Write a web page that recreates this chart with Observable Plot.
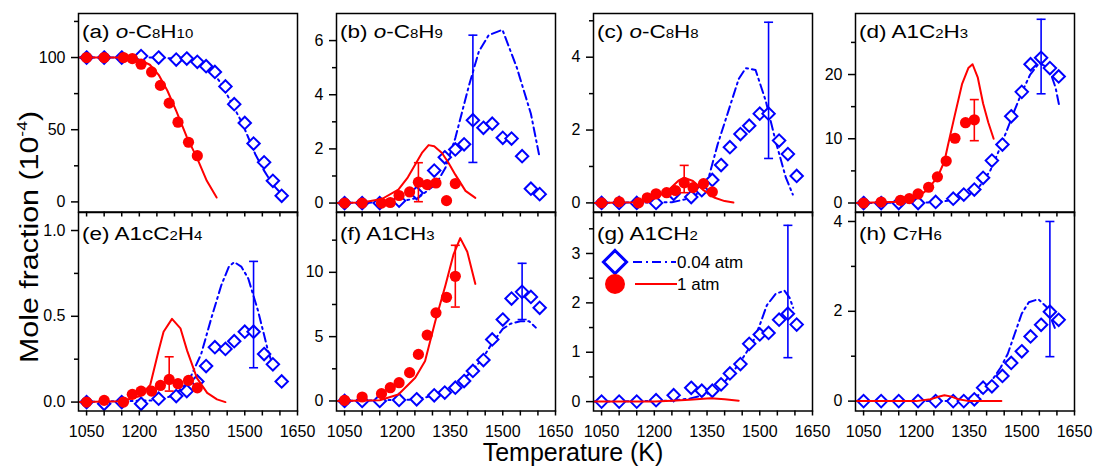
<!DOCTYPE html>
<html><head><meta charset="utf-8">
<script src="https://cdn.jsdelivr.net/npm/d3@7"></script>
<script src="https://cdn.jsdelivr.net/npm/@observablehq/plot@0.6"></script>
<style>
body{margin:0;background:#fff;font-family:"Liberation Sans",Arial,sans-serif;}
#wrap{position:relative;width:1095px;height:468px;overflow:hidden;background:#fff;}
#wrap svg{position:absolute;overflow:visible;}
</style></head><body><div id="wrap"></div>
<script>
// ---------- data ----------
const T_EXP_004 = [1050,1100,1150,1205,1255,1305,1335,1365,1390,1415,1445,1470,1500,1525,1555,1580,1605];
const T_EXP_1   = [1050,1100,1155,1180,1205,1235,1260,1285,1310,1340,1365];
const X_TICKS = [1050,1200,1350,1500,1650];
const X_MINOR = [1100,1150,1250,1300,1400,1450,1550,1600];
const LEGEND_LABELS = ["0.04 atm","1 atm"];
const X_TITLE = "Temperature (K)";
const Y_TITLE = ["Mole fraction (10","-4",")"];

// (a) o-C8H10
const a_blue = [100,100,100,101,100,98.6,99.3,97,94,90,80,67.7,54.7,40.4,27.4,14.6,4.2];
const a_red  = [100,100,100,99.3,95.4,90,80.7,68.4,55.2,41.3,32];
const a_blueModel = [[1030,100],[1250,100],[1330,99],[1380,96],[1410,90],[1435,81],[1459,70],[1492,55],[1530,33],[1554,22],[1580,12],[1610,4]];
const a_redModel  = [[1030,100],[1150,100],[1200,98.5],[1230,95],[1255,88],[1280,77],[1305,63],[1335,45],[1365,30],[1392,14.6],[1420,3]];
const a_errBlue = [], a_errRed = [];
// (b) o-C8H9
const b_blue = [0,0,0,0.09,0.37,1.2,1.69,1.98,2.17,3.06,2.78,2.93,2.41,2.38,1.73,0.53,0.33];
const b_red  = [0,0,0,0.02,0.28,0.41,0.77,0.68,0.74,0.09,0.72];
const b_blueModel = [[1030,0],[1200,0.03],[1260,0.2],[1310,0.7],[1337,1.3],[1365,2.4],[1403,4.3],[1432,5.6],[1460,6.2],[1499,6.4],[1540,5.0],[1580,3.3],[1603,1.8]];
const b_redModel  = [[1030,0],[1100,0.02],[1156,0.15],[1203,0.5],[1230,0.95],[1251,1.42],[1270,1.85],[1289,2.14],[1305,2.1],[1327,1.85],[1345,1.5],[1365,1.05],[1394,0.45],[1422,0.19]];
const b_errBlue = [[1415,1.5,6.2]], b_errRed = [[1260,0.05,1.49]];
// (c) o-C8H8
const c_blue = [0,0,0,0,0.25,0.16,0.35,0.63,1.04,1.53,1.89,2.12,2.45,2.45,1.71,1.34,0.74];
const c_red  = [0,0.03,0,0.14,0.25,0.28,0.34,0.55,0.42,0.53,0.3];
const c_blueModel = [[1030,0],[1250,0.02],[1300,0.12],[1330,0.3],[1352,0.6],[1380,1.6],[1410,2.5],[1440,3.4],[1460,3.7],[1488,3.65],[1517,2.8],[1545,1.7],[1574,0.7],[1594,0.23]];
const c_redModel  = [[1030,0],[1150,0.02],[1200,0.12],[1240,0.35],[1270,0.62],[1285,0.69],[1310,0.6],[1340,0.35],[1370,0.15],[1400,0.05],[1425,0.01]];
const c_errBlue = [[1525,1.22,4.96]], c_errRed = [[1285,0.28,1.03]];
// (d) A1C2H3
const d_blue = [0,0,0,0,0.16,0.68,1.31,2.09,3.92,6.6,9.1,13.5,17.3,21.6,22.6,21.0,19.7];
const d_red  = [0,0.16,0.42,0.68,1.41,2.45,4.07,6.53,10.08,12.5,12.95];
const d_blueModel = [[1030,0],[1250,0.1],[1300,0.4],[1350,1.3],[1380,2.6],[1410,5],[1430,7.5],[1457,11.2],[1480,14.5],[1500,17.2],[1524,20],[1550,21.8],[1577,21],[1596,18],[1607,15]];
const d_redModel  = [[1030,0],[1150,0.2],[1200,0.8],[1230,2],[1260,4],[1280,6.5],[1290,9],[1310,13.8],[1330,18.5],[1348,21],[1360,21.6],[1375,19.5],[1390,15.5],[1405,12.5],[1420,10]];
const d_errBlue = [[1555,17.0,28.6]], d_errRed = [[1365,9.7,16.1]];
// (e) A1cC2H4
const e_blue = [0,-0.01,0,-0.01,0.02,0.035,0.064,0.12,0.21,0.32,0.31,0.355,0.41,0.41,0.28,0.22,0.12];
const e_red  = [0,0.01,0,0.045,0.064,0.064,0.097,0.132,0.107,0.126,0.083];
const e_blueModel = [[1030,0],[1250,0.01],[1300,0.04],[1340,0.12],[1376,0.28],[1405,0.49],[1433,0.68],[1455,0.79],[1470,0.816],[1490,0.79],[1510,0.72],[1538,0.53],[1566,0.3],[1582,0.2]];
const e_redModel  = [[1030,0],[1150,0.005],[1202,0.035],[1231,0.1],[1255,0.3],[1269,0.41],[1293,0.485],[1317,0.43],[1336,0.3],[1364,0.14],[1393,0.054],[1421,0.016],[1445,0]];
const e_errBlue = [[1525,0.20,0.82]], e_errRed = [[1285,0.064,0.264]];
// (f) A1CH3
const f_blue = [0,0,0,0.08,0.13,0.44,0.65,1.03,1.55,2.33,3.18,4.78,6.33,7.96,8.48,8.09,7.24];
const f_red  = [0.05,0.31,0.57,1.03,1.42,2.2,3.62,5.12,6.85,8.06,9.69];
const f_blueModel = [[1030,0],[1250,0.1],[1300,0.4],[1350,1.0],[1400,2.0],[1440,3.2],[1470,4.5],[1500,5.6],[1522,6.0],[1550,6.2],[1575,6.2],[1594,5.7]];
const f_redModel  = [[1030,0],[1150,0.05],[1203,0.5],[1251,1.8],[1279,3.1],[1308,6.2],[1337,9.0],[1360,11.4],[1379,12.66],[1399,11.6],[1422,9.1]];
const f_errBlue = [[1555,6.33,10.7]], f_errRed = [[1365,7.3,12.1]];
// (g) A1CH2
const g_blue = [0,0,0,0.03,0.13,0.28,0.22,0.22,0.35,0.57,0.76,1.17,1.36,1.39,1.66,1.78,1.56];
const g_red  = null;
const g_blueModel = [[1030,0],[1250,0.02],[1300,0.06],[1350,0.15],[1400,0.4],[1440,0.75],[1480,1.2],[1500,1.55],[1520,1.95],[1545,2.18],[1570,2.25],[1585,2.1],[1595,1.9]];
const g_redModel  = [[1030,0],[1200,0],[1250,0.02],[1300,0.04],[1360,0.07],[1400,0.05],[1440,0.02]];
const g_errBlue = [[1580,0.89,3.57]], g_errRed = [];
// (h) C7H6
const h_blue = [0,0,0,0,0,0,0,0.04,0.3,0.33,0.56,0.85,1.11,1.44,1.70,1.99,1.81];
const h_red  = null;
const h_blueModel = [[1030,0],[1320,0],[1350,0.03],[1380,0.15],[1410,0.4],[1440,0.75],[1460,1.05],[1480,1.5],[1500,1.95],[1520,2.2],[1547,2.27],[1570,2.1],[1594,1.63]];
const h_redModel  = [[1030,0],[1200,0],[1240,0.04],[1260,0.09],[1280,0.13],[1300,0.1],[1320,0.04],[1350,0],[1442,0]];
const h_errBlue = [[1580,0.99,4.0]], h_errRed = [];

// panel titles: [text, kind] kind: i = italic, s = small digit
const a_title = [["(a) "],["o","i"],["-C"],["8","s"],["H"],["10","s"]];
const b_title = [["(b) "],["o","i"],["-C"],["8","s"],["H"],["9","s"]];
const c_title = [["(c) "],["o","i"],["-C"],["8","s"],["H"],["8","s"]];
const d_title = [["(d) A1C"],["2","s"],["H"],["3","s"]];
const e_title = [["(e) A1cC"],["2","s"],["H"],["4","s"]];
const f_title = [["(f) A1CH"],["3","s"]];
const g_title = [["(g) A1CH"],["2","s"]];
const h_title = [["(h) C"],["7","s"],["H"],["6","s"]];

// y axis ticks
const a_yTicks=[0,50,100], a_yMinor=[25,75,125];
const b_yTicks=[0,2,4,6], b_yMinor=[1,3,5];
const c_yTicks=[0,2,4], c_yMinor=[1,3,5];
const d_yTicks=[0,10,20], d_yMinor=[5,15,25];
const e_yTicks=[0,0.5,1.0], e_yMinor=[0.25,0.75];
const f_yTicks=[0,5,10], f_yMinor=[2.5,7.5,12.5];
const g_yTicks=[0,1,2,3], g_yMinor=[0.5,1.5,2.5,3.5];
const h_yTicks=[0,2,4], h_yMinor=[1,3];

// ---------- layout / style ----------
const BLUE = "#0000ff", RED = "#ff0000";
const X_DOMAIN = [1027, 1650];
const COL_LEFT = [78, 336, 593, 855], FW = 219;
const ROW_TOP = [13, 211.5], FH = 198.5;
const ML = 50, MR = 8, MT = 12, MB = 36;
const FONT = '"Liberation Sans", Arial, sans-serif';

const panels = [
  {col:0,row:0,title:a_title,blue:a_blue,red:a_red,bm:a_blueModel,rm:a_redModel,eb:a_errBlue,er:a_errRed,y:[-7,130.5],yt:a_yTicks,ym:a_yMinor},
  {col:1,row:0,title:b_title,blue:b_blue,red:b_red,bm:b_blueModel,rm:b_redModel,eb:b_errBlue,er:b_errRed,y:[-0.33,7.0],yt:b_yTicks,ym:b_yMinor},
  {col:2,row:0,title:c_title,blue:c_blue,red:c_red,bm:c_blueModel,rm:c_redModel,eb:c_errBlue,er:c_errRed,y:[-0.25,5.2],yt:c_yTicks,ym:c_yMinor},
  {col:3,row:0,title:d_title,blue:d_blue,red:d_red,bm:d_blueModel,rm:d_redModel,eb:d_errBlue,er:d_errRed,y:[-1.4,29.5],yt:d_yTicks,ym:d_yMinor},
  {col:0,row:1,title:e_title,blue:e_blue,red:e_red,bm:e_blueModel,rm:e_redModel,eb:e_errBlue,er:e_errRed,y:[-0.052,1.105],yt:e_yTicks,ym:e_yMinor,fmt:d3.format(".1f")},
  {col:1,row:1,title:f_title,blue:f_blue,red:f_red,bm:f_blueModel,rm:f_redModel,eb:f_errBlue,er:f_errRed,y:[-0.78,14.65],yt:f_yTicks,ym:f_yMinor},
  {col:2,row:1,title:g_title,blue:g_blue,red:g_red,bm:g_blueModel,rm:g_redModel,eb:g_errBlue,er:g_errRed,y:[-0.19,3.83],yt:g_yTicks,ym:g_yMinor},
  {col:3,row:1,title:h_title,blue:h_blue,red:h_red,bm:h_blueModel,rm:h_redModel,eb:h_errBlue,er:h_errRed,y:[-0.22,4.2],yt:h_yTicks,ym:h_yMinor},
];

const capSymbol = {draw(ctx){ ctx.moveTo(-4.5,0); ctx.lineTo(4.5,0); }};
const wrap = document.getElementById("wrap");
const none = () => "";

function errMarks(rows, color) {
  const data = rows.map(([T,lo,hi]) => ({T,lo,hi}));
  return [
    Plot.ruleX(data, {x:"T", y1:"lo", y2:"hi", stroke:color, strokeWidth:1.6}),
    Plot.dot(data, {x:"T", y:"lo", symbol:capSymbol, stroke:color, strokeWidth:1.6, fill:"none"}),
    Plot.dot(data, {x:"T", y:"hi", symbol:capSymbol, stroke:color, strokeWidth:1.6, fill:"none"})
  ];
}

for (const p of panels) {
  const blue = T_EXP_004.map((T,i) => ({T, v:p.blue[i]}));
  const red = p.red ? T_EXP_1.map((T,i) => ({T, v:p.red[i]})) : [];
  const bm = p.bm.map(([T,v]) => ({T,v}));
  const rm = p.rm.map(([T,v]) => ({T,v}));
  const bottom = p.row === 1;
  const svg = Plot.plot({
    width: FW + ML + MR, height: FH + MT + MB,
    marginLeft: ML, marginRight: MR, marginTop: MT, marginBottom: MB,
    style: {background:"transparent", fontFamily:FONT, fontSize:"16px", color:"black", overflow:"visible"},
    x: {domain: X_DOMAIN, axis: null},
    y: {domain: p.y, axis: null},
    marks: [
      Plot.line(bm, {x:"T", y:"v", stroke:BLUE, strokeWidth:2, strokeDasharray:"9,4,2,4"}),
      Plot.dot(blue, {x:"T", y:"v", symbol:"diamond2", r:5.6, stroke:BLUE, strokeWidth:2, fill:"white"}),
      ...errMarks(p.eb, BLUE),
      Plot.line(rm, {x:"T", y:"v", stroke:RED, strokeWidth:2}),
      Plot.dot(red, {x:"T", y:"v", r:5.6, fill:RED, stroke:"none"}),
      ...errMarks(p.er, RED),
      Plot.frame({stroke:"black", strokeWidth:1.5}),
      Plot.axisY({ticks:p.yt, label:null, tickSize:7, tickPadding:6, strokeWidth:1.5, fontSize:16, tickFormat:p.fmt || (d => String(d))}),
      Plot.axisY({ticks:p.ym, label:null, tickSize:4, strokeWidth:1.5, tickFormat:none}),
      Plot.axisX({ticks:X_TICKS, label:null, tickSize:5, tickPadding:10, strokeWidth:1.5, fontSize:16, tickFormat: bottom ? (d => String(d)) : none}),
      Plot.axisX({ticks:X_MINOR, label:null, tickSize:5, strokeWidth:1.5, tickFormat:none})
    ]
  });
  svg.style.left = (COL_LEFT[p.col] - ML) + "px";
  svg.style.top = (ROW_TOP[p.row] - MT) + "px";
  // panel title
  const t = d3.select(svg).append("text")
    .attr("transform", `translate(${ML + 4},${MT + (bottom ? 28 : 25)}) scale(1.25,1)`)
    .attr("text-anchor", "start")
    .attr("font-size", 18).attr("fill", "black")
    .attr("font-family", FONT);
  for (const [s, k] of p.title) {
    const sp = t.append("tspan").text(s);
    if (k === "i") sp.attr("font-style", "italic");
    if (k === "s") sp.attr("font-size", 12);
  }
  wrap.appendChild(svg);
}

// ---------- overlay: axis titles + legend ----------
const ov = d3.select(wrap).append("svg").attr("width", 1095).attr("height", 468)
  .style("left","0px").style("top","0px")
  .attr("font-family", FONT);
ov.append("text").attr("x", 573).attr("y", 461).attr("text-anchor","middle")
  .attr("font-size", 25).text(X_TITLE);
const yt = ov.append("text").attr("transform","translate(38,237) rotate(-90) scale(1.17,1)")
  .attr("text-anchor","middle").attr("font-size", 26);
yt.append("tspan").text(Y_TITLE[0]);
yt.append("tspan").attr("font-size", 15).attr("dy", -11).text(Y_TITLE[1]);
yt.append("tspan").attr("dy", 11).text(Y_TITLE[2]);

const lg = ov.append("g");
lg.append("path").attr("d", d3.symbol(d3.symbolDiamond2, 340)())
  .attr("transform","translate(615,262)").attr("fill","white").attr("stroke",BLUE).attr("stroke-width",3);
lg.append("line").attr("x1",633).attr("x2",676).attr("y1",262).attr("y2",262)
  .attr("stroke",BLUE).attr("stroke-width",2).attr("stroke-dasharray","9,4,2,4");
lg.append("text").attr("x",677).attr("y",268).attr("font-size",17).text(LEGEND_LABELS[0]);
lg.append("circle").attr("cx",615).attr("cy",284).attr("r",10).attr("fill",RED);
lg.append("line").attr("x1",635).attr("x2",677).attr("y1",284).attr("y2",284)
  .attr("stroke",RED).attr("stroke-width",2);
lg.append("text").attr("x",677).attr("y",290).attr("font-size",17).text(LEGEND_LABELS[1]);
</script></body></html>
